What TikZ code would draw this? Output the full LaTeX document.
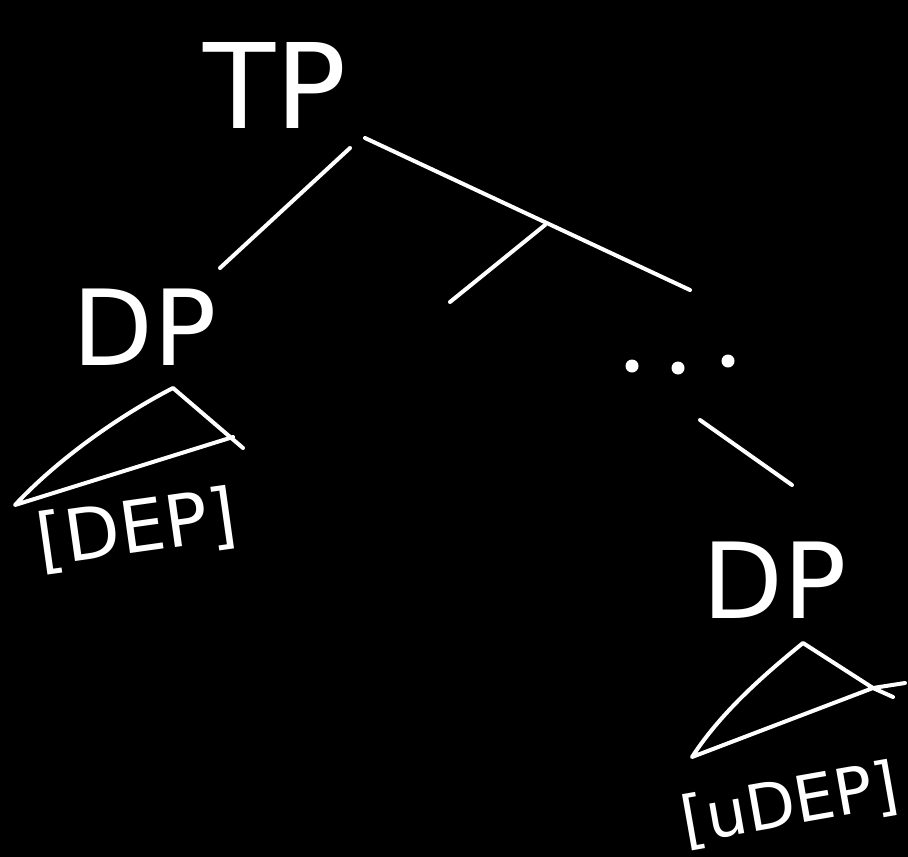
\documentclass[tikz,border=0pt]{standalone}
\usepackage{fontspec}
\setmainfont{DejaVu Sans}
\begin{document}
\begin{tikzpicture}[x=1pt,y=-1pt,
  chalk/.style={draw=white,line width=4pt,line cap=round,line join=round},
  lbl/.style={text=white,inner sep=0pt,font=\fontsize{#1}{#1}\selectfont},
  dot/.style={fill=white,circle,inner sep=0pt,minimum size=13pt}]
\fill[black] (0,0) rectangle (908,857);
\useasboundingbox (0,0) rectangle (908,857);
% labels
\node[lbl=118] (tp) at (275,85) {TP};
\node[lbl=105] (dp1) at (145,327) {DP};
\node[lbl=72,rotate=8] (dep1) at (137,530) {[DEP]};
\node[lbl=105] (dp2) at (775,580) {DP};
\node[lbl=64,rotate=10] (dep2) at (790,805) {[uDEP]};
% dots
\node[dot] (d1) at (632,366) {};
\node[dot] (d2) at (678,368) {};
\node[dot] (d3) at (728,361) {};
% branch points
\coordinate (tpL) at (350,148);
\coordinate (dpL) at (220,268);
\coordinate (tpR) at (365,138);
\coordinate (bR) at (690,290);
\coordinate (mTop) at (545,225);
\coordinate (mBot) at (450,302);
\coordinate (dotsB) at (700,420);
\coordinate (dp2T) at (792,485);
% tree lines
\draw[chalk] (tpL) -- (dpL);
\draw[chalk] (tpR) -- (bR);
\draw[chalk] (mTop) -- (mBot);
\draw[chalk] (dotsB) -- (dp2T);
% triangle 1
\coordinate (t1a) at (173,388);
\coordinate (t1r) at (243,448);
\coordinate (t1c) at (233,437);
\coordinate (t1l) at (15,505);
\draw[chalk] (t1r) -- (t1a) .. controls (115,418) and (55,462) .. (t1l) -- (t1c);
% triangle 2
\coordinate (t2a) at (803,643);
\coordinate (t2r) at (905,683);
\coordinate (t2c) at (873,688);
\coordinate (t2l) at (692,757);
\coordinate (t2x) at (893,697);
\draw[chalk] (t2x) -- (t2c) -- (t2a) .. controls (760,678) and (720,714) .. (t2l) -- (t2c) -- (t2r);
\end{tikzpicture}
\end{document}
